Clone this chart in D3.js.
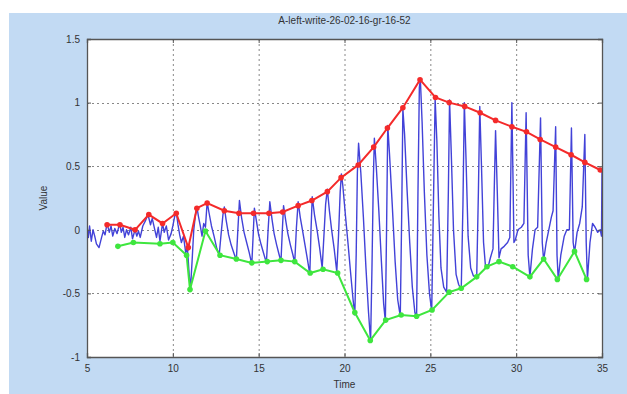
<!DOCTYPE html>
<html>
<head>
<meta charset="utf-8">
<script src="https://cdn.jsdelivr.net/npm/d3@7"></script>
<style>
  body { margin: 0; background: #fff; }
  svg { display: block; font-family: Arial, "Liberation Sans", sans-serif; }
</style>
</head>
<body>
<svg width="627" height="394"></svg>
<script>
// signal (time, value)
const blue = [
  [5.00,0.02],[5.08,-0.06],[5.15,0.03],[5.25,-0.09],[5.35,0.00],[5.45,-0.05],[5.55,-0.11],[5.7,-0.14],
  [5.85,-0.06],[5.95,-0.01],[6.05,-0.04],[6.17,0.05],[6.3,-0.02],[6.4,0.03],[6.5,-0.05],[6.62,0.01],
  [6.75,-0.03],[6.9,0.05],[7.0,-0.02],[7.1,0.02],[7.2,-0.06],[7.3,0.0],[7.42,-0.04],[7.55,0.02],
  [7.65,-0.07],[7.8,0.0],[7.9,-0.05],[8.0,-0.01],[8.1,-0.06],[8.25,0.03],[8.4,0.07],[8.55,0.12],
  [8.7,0.04],[8.8,0.09],[8.95,0.0],[9.05,-0.06],[9.15,0.02],[9.25,-0.09],[9.4,0.05],[9.5,-0.02],
  [9.62,0.03],[9.75,-0.08],[9.9,-0.03],[10.0,0.03],[10.1,0.1],[10.2,0.14],[10.3,0.04],[10.4,-0.04],
  [10.5,-0.1],[10.62,-0.05],[10.75,-0.18],[10.85,-0.14],[10.95,-0.35],[11.03,-0.46],[11.12,-0.25],
  [11.22,0.0],[11.32,0.12],[11.4,0.18],[11.5,0.1],[11.6,0.03],[11.7,-0.05],[11.8,0.05],[11.9,0.02],
  [12.0,0.22],[12.1,0.14],[12.25,0.03],[12.4,-0.05],[12.55,-0.14],[12.7,-0.2],[12.8,-0.05],[12.92,0.12],
  [13.0,0.18],[13.1,0.08],[13.25,-0.04],[13.4,-0.12],[13.55,-0.18],[13.7,-0.24],[13.78,-0.02],[13.88,0.23],
  [14.0,0.1],[14.15,-0.02],[14.3,-0.1],[14.45,-0.18],[14.6,-0.27],[14.68,-0.04],[14.75,0.17],[14.88,0.06],
  [15.0,-0.04],[15.15,-0.12],[15.3,-0.19],[15.45,-0.26],[15.55,0.0],[15.65,0.22],[15.78,0.08],[15.9,-0.03],
  [16.05,-0.12],[16.2,-0.2],[16.3,-0.25],[16.38,0.0],[16.45,0.19],[16.58,0.07],[16.7,-0.03],[16.85,-0.12],
  [17.0,-0.2],[17.1,-0.26],[17.2,0.02],[17.3,0.22],[17.42,0.1],[17.55,0.0],[17.7,-0.12],[17.85,-0.24],
  [17.98,-0.35],[18.05,0.0],[18.12,0.26],[18.25,0.12],[18.4,0.0],[18.55,-0.14],[18.7,-0.3],[18.8,-0.05],
  [18.9,0.2],[19.0,0.32],[19.12,0.15],[19.25,0.0],[19.4,-0.15],[19.55,-0.33],[19.65,-0.05],[19.75,0.3],
  [19.82,0.44],[19.9,0.35],[20.05,0.12],[20.2,-0.1],[20.35,-0.33],[20.5,-0.55],[20.6,-0.67],[20.68,-0.2],
  [20.75,0.45],[20.82,0.68],[20.95,0.45],[21.1,0.1],[21.25,-0.3],[21.4,-0.65],[21.52,-0.88],[21.6,-0.3],
  [21.68,0.4],[21.74,0.72],[21.85,0.5],[22.0,0.15],[22.15,-0.25],[22.28,-0.58],[22.38,-0.72],[22.45,0.0],
  [22.52,0.82],[22.62,0.6],[22.78,0.2],[22.95,-0.25],[23.1,-0.55],[23.25,-0.68],[23.33,0.1],[23.4,0.95],
  [23.5,0.75],[23.65,0.3],[23.8,-0.1],[23.95,-0.45],[24.1,-0.65],[24.2,-0.69],[24.28,0.3],[24.36,1.12],
  [24.42,1.18],[24.52,0.85],[24.65,0.3],[24.8,-0.2],[24.95,-0.5],[25.08,-0.64],[25.18,0.2],[25.28,1.03],
  [25.38,0.7],[25.5,0.1],[25.62,-0.3],[25.78,-0.45],[25.95,-0.49],[26.05,0.3],[26.12,1.02],[26.22,0.6],
  [26.35,0.0],[26.5,-0.35],[26.65,-0.43],[26.8,-0.47],[26.9,0.2],[26.98,1.0],[27.08,0.55],[27.2,-0.05],
  [27.35,-0.3],[27.5,-0.36],[27.7,-0.38],[27.8,0.3],[27.88,0.97],[27.98,0.5],[28.1,-0.1],[28.22,-0.3],
  [28.35,-0.3],[28.5,-0.22],[28.65,-0.15],[28.72,0.3],[28.8,0.78],[28.9,0.3],[29.0,-0.22],[29.12,-0.15],
  [29.3,-0.13],[29.5,-0.1],[29.63,-0.06],[29.75,1.0],[29.87,-0.1],[29.95,-0.08],[30.1,0.0],[30.3,0.02],
  [30.45,0.05],[30.58,0.92],[30.7,-0.2],[30.8,-0.37],[30.95,-0.15],[31.1,0.0],[31.25,0.02],[31.42,0.88],
  [31.52,-0.1],[31.6,-0.24],[31.75,-0.1],[31.9,0.0],[32.05,0.1],[32.15,0.15],[32.3,0.81],[32.38,-0.2],
  [32.45,-0.39],[32.6,-0.2],[32.8,-0.05],[32.95,0.0],[33.1,0.0],[33.22,0.8],[33.32,-0.1],[33.4,-0.18],
  [33.55,-0.02],[33.7,0.05],[33.85,0.18],[34.0,0.75],[34.08,-0.1],[34.15,-0.39],[34.3,-0.1],[34.45,0.05],
  [34.6,0.02],[34.75,-0.02],[34.9,0.0],[34.97,-0.05],[35.0,0.47]
];

// upper envelope (red)
const redT = [6.17,6.92,7.8,8.6,9.4,10.2,10.9,11.4,12.0,13.0,13.85,14.7,15.6,16.4,17.3,18.1,19.0,19.8,
  20.8,21.7,22.5,23.4,24.4,25.3,26.1,27.0,27.9,28.8,29.75,30.6,31.4,32.3,33.2,34.0,34.9];
const redV = [0.04,0.04,0.0,0.12,0.05,0.13,-0.14,0.17,0.21,0.15,0.13,0.13,0.13,0.14,0.19,0.23,0.30,0.41,
  0.51,0.65,0.80,0.96,1.18,1.04,1.00,0.97,0.92,0.86,0.81,0.77,0.71,0.65,0.59,0.53,0.47];

// lower envelope (green)
const greenT = [6.8,7.7,9.25,10.0,10.8,11.0,11.9,12.75,13.7,14.6,15.5,16.3,17.1,18.0,18.75,19.6,20.6,21.5,
  22.4,23.3,24.2,25.1,26.1,26.8,27.7,28.3,29.0,29.8,30.8,31.6,32.4,33.4,34.1];
const greenV = [-0.13,-0.10,-0.11,-0.10,-0.20,-0.47,-0.01,-0.20,-0.23,-0.26,-0.25,-0.24,-0.25,-0.34,-0.31,
  -0.34,-0.65,-0.87,-0.71,-0.67,-0.68,-0.63,-0.49,-0.46,-0.37,-0.29,-0.25,-0.29,-0.37,-0.23,-0.39,-0.17,-0.39];

const xTicks = [5, 10, 15, 20, 25, 30, 35];
const yTicks = [-1, -0.5, 0, 0.5, 1, 1.5];
const title = "A-left-write-26-02-16-gr-16-52";

const svg = d3.select("svg");
const area = { left: 87, top: 39, right: 602, bottom: 357 };

// figure background
svg.append("rect").attr("x", 9).attr("y", 13).attr("width", 618).attr("height", 381)
   .attr("fill", "#c2daf3");

const scX = d3.scaleLinear().domain([5, 35]).range([area.left, area.right]);
const scY = d3.scaleLinear().domain([-1, 1.5]).range([area.bottom, area.top]);

svg.append("rect")
   .attr("x", area.left).attr("y", area.top)
   .attr("width", area.right - area.left).attr("height", area.bottom - area.top)
   .attr("fill", "#fff");

// dotted grid
const grid = svg.append("g").attr("stroke", "#888").attr("stroke-dasharray", "2,3").attr("stroke-width", 1);
grid.selectAll(".gx").data(xTicks.slice(1, -1)).enter().append("line")
    .attr("x1", d => scX(d) + 0.5).attr("x2", d => scX(d) + 0.5)
    .attr("y1", area.top).attr("y2", area.bottom);
grid.selectAll(".gy").data(yTicks.slice(1, -1)).enter().append("line")
    .attr("y1", d => Math.round(scY(d)) + 0.5).attr("y2", d => Math.round(scY(d)) + 0.5)
    .attr("x1", area.left).attr("x2", area.right);

// clip for data
svg.append("clipPath").attr("id", "clip").append("rect")
   .attr("x", area.left).attr("y", area.top)
   .attr("width", area.right - area.left + 1).attr("height", area.bottom - area.top);
const plot = svg.append("g").attr("clip-path", "url(#clip)");

const line = d3.line().x(d => scX(d[0])).y(d => scY(d[1]));

plot.append("path").attr("d", line(blue))
    .attr("fill", "none").attr("stroke", "#4242d8").attr("stroke-width", 1.4)
    .attr("stroke-linejoin", "round");

const red = redT.map((t, i) => [t, redV[i]]);
const green = greenT.map((t, i) => [t, greenV[i]]);

function drawEnvelope(data, color) {
    plot.append("path").attr("d", line(data))
        .attr("fill", "none").attr("stroke", color).attr("stroke-width", 2);
    plot.selectAll(null).data(data).enter().append("circle")
        .attr("cx", d => scX(d[0])).attr("cy", d => scY(d[1]))
        .attr("r", 2.8).attr("fill", color);
}
drawEnvelope(green, "#3ee63e");
drawEnvelope(red, "#f42a2a");

// axes box with inner ticks
const axisColor = "#555";
svg.append("g").attr("transform", `translate(0,${area.bottom})`)
   .call(d3.axisBottom(scX).tickValues(xTicks).tickSize(-4).tickPadding(8).tickFormat(d3.format("d")));
svg.append("g").attr("transform", `translate(0,${area.top})`)
   .call(d3.axisTop(scX).tickValues(xTicks).tickSize(-4).tickFormat(""));
svg.append("g").attr("transform", `translate(${area.left},0)`)
   .call(d3.axisLeft(scY).tickValues(yTicks).tickSize(-4).tickPadding(7).tickFormat(d => d));
svg.append("g").attr("transform", `translate(${area.right},0)`)
   .call(d3.axisRight(scY).tickValues(yTicks).tickSize(-4).tickFormat(""));

svg.selectAll(".domain").attr("stroke", axisColor).attr("stroke-width", 1.3);
svg.selectAll(".tick line").attr("stroke", axisColor);
svg.selectAll(".tick text").attr("fill", "#333").style("font-size", "10px");

svg.append("text").attr("x", (area.left + area.right) / 2).attr("y", 24)
   .attr("text-anchor", "middle").attr("fill", "#333").style("font-size", "10px").text(title);
svg.append("text").attr("x", (area.left + area.right) / 2).attr("y", 388)
   .attr("text-anchor", "middle").attr("fill", "#333").style("font-size", "10px").text("Time");
svg.append("text").attr("transform", `translate(47,${(area.top + area.bottom) / 2}) rotate(-90)`)
   .attr("text-anchor", "middle").attr("fill", "#333").style("font-size", "10px").text("Value");
</script>
</body>
</html>
